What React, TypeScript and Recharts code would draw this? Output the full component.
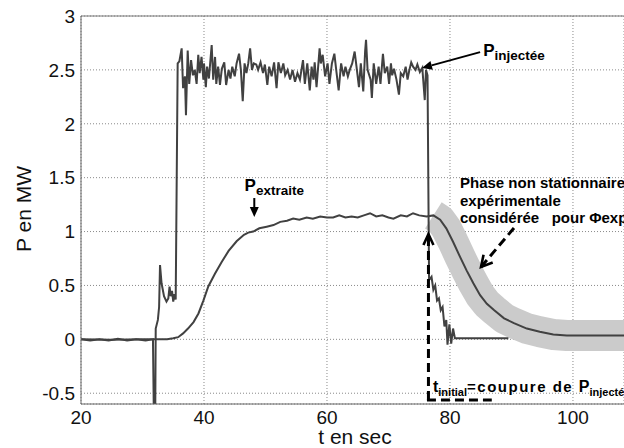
import React from 'react';
import { LineChart, Line, XAxis, YAxis, CartesianGrid, ReferenceLine } from 'recharts';

// ---- axes ----
const X_TICKS = [20, 40, 60, 80, 100];
const Y_TICKS = [-0.5, 0, 0.5, 1, 1.5, 2, 2.5, 3];
const X_MIN = 20;
const X_MAX = 108.3;
const Y_MIN = -0.6;
const Y_MAX = 3;

// ---- P injectée (t [s], P [MW]) ----
const injected: [number, number][] = [
  [20, 0], [21.5, -0.01], [23, 0], [24.5, -0.01], [26, 0.005], [27.5, -0.01], [29, 0], [30.5, -0.01],
  [31.7, 0], [31.9, -0.95], [32.05, -0.95], [32.15, 0.1], [32.5, 0.18], [32.7, 0.3], [32.85, 0.69],
  [33.1, 0.52], [33.5, 0.4], [33.9, 0.35], [34.2, 0.38], [34.4, 0.49], [34.6, 0.4], [34.8, 0.45],
  [35.0, 0.35], [35.2, 0.42], [35.4, 0.37],
  [35.72, 2.56], [36.0, 2.58], [36.37, 2.7], [36.6, 2.33], [36.9, 2.44], [37.07, 2.08], [37.35, 2.68],
  [37.6, 2.37], [37.9, 2.59], [38.2, 2.45], [38.5, 2.5], [38.8, 2.37], [39.07, 2.64], [39.3, 2.47],
  [39.6, 2.62], [39.9, 2.41], [40.0, 2.56], [40.3, 2.34], [40.5, 2.53], [40.8, 2.42], [41.25, 2.73],
  [41.5, 2.41], [41.8, 2.62], [42.0, 2.37], [42.3, 2.53], [42.6, 2.36], [42.9, 2.51], [43.3, 2.57],
  [43.6, 2.36], [44.0, 2.5], [44.3, 2.42], [44.6, 2.53], [45.0, 2.44], [45.3, 2.56], [45.7, 2.65],
  [46.0, 2.5], [46.3, 2.21], [46.6, 2.56], [46.9, 2.47], [47.2, 2.56], [47.5, 2.7], [47.8, 2.5],
  [48.1, 2.56], [48.5, 2.55], [48.8, 2.5], [49.2, 2.57], [49.6, 2.47], [49.9, 2.55], [50.3, 2.36],
  [50.6, 2.53], [51.0, 2.44], [51.4, 2.57], [51.8, 2.33], [52.1, 2.57], [52.5, 2.47], [52.9, 2.56],
  [53.2, 2.45], [53.6, 2.5], [54.0, 2.41], [54.4, 2.5], [54.8, 2.39], [55.2, 2.47], [55.6, 2.41],
  [56.1, 2.59], [56.4, 2.37], [56.8, 2.56], [57.2, 2.31], [57.5, 2.53], [57.8, 2.41], [58.0, 2.57],
  [58.3, 2.34], [58.8, 2.7], [59.0, 2.56], [59.3, 2.64], [59.7, 2.44], [60.1, 2.56], [60.4, 2.37],
  [60.8, 2.56], [61.2, 2.65], [61.5, 2.5], [61.9, 2.31], [62.3, 2.56], [62.7, 2.44], [63.0, 2.53],
  [63.4, 2.44], [63.7, 2.5], [64.1, 2.56], [64.5, 2.67], [64.8, 2.53], [65.2, 2.34], [65.5, 2.56],
  [65.9, 2.3], [66.2, 2.67], [66.35, 2.78], [66.6, 2.5], [67.1, 2.41], [67.3, 2.24], [67.6, 2.56],
  [68.0, 2.37], [68.4, 2.53], [68.7, 2.37], [69.1, 2.65], [69.4, 2.47], [69.8, 2.53], [70.1, 2.37],
  [70.4, 2.56], [70.6, 2.45], [70.9, 2.51], [71.3, 2.41], [71.7, 2.27], [72.0, 2.47], [72.4, 2.44],
  [72.8, 2.53], [73.1, 2.41], [73.4, 2.5], [73.7, 2.57], [74.0, 2.53], [74.4, 2.5], [74.7, 2.55],
  [75.1, 2.48], [75.5, 2.52], [75.9, 2.22], [76.1, 2.5], [76.35, 2.45],
  [76.6, 0.55], [77.0, 0.58], [77.3, 0.46], [77.6, 0.5], [77.9, 0.36], [78.2, 0.38], [78.5, 0.27],
  [78.8, 0.3], [79.1, 0.12], [79.4, 0.18], [79.6, -0.05], [79.9, 0.14], [80.2, -0.04], [80.5, 0.1],
  [80.8, 0.01], [89.5, 0.01],
];

// ---- P extraite (t [s], P [MW]) ----
const extracted: [number, number][] = [
  [20, 0], [25, -0.005], [30, 0], [34, 0], [35, 0.01], [35.8, 0.02], [36.6, 0.055], [37.4, 0.1],
  [38.3, 0.16], [39.1, 0.24], [39.9, 0.36], [40.7, 0.49], [41.8, 0.61], [42.9, 0.72], [44.0, 0.82],
  [45.3, 0.91], [46.5, 0.97], [47.2, 0.99], [48.0, 1.0], [49.0, 1.03], [50.2, 1.045], [51.3, 1.06],
  [52.4, 1.09], [53.5, 1.1], [54.5, 1.12], [55.5, 1.11], [56.7, 1.13], [57.7, 1.12], [58.9, 1.14],
  [60.0, 1.13], [61.0, 1.13], [62.0, 1.15], [63.0, 1.13], [64.0, 1.14], [65.0, 1.13], [66.0, 1.15],
  [67.0, 1.17], [68.0, 1.14], [69.0, 1.15], [70.0, 1.13], [70.8, 1.12], [72.0, 1.15], [73.0, 1.14],
  [74.0, 1.17], [75.0, 1.15], [76.2, 1.14], [77.3, 1.15], [78.4, 1.11], [79.4, 1.03], [80.5, 0.905],
  [81.6, 0.77], [82.7, 0.64], [83.8, 0.52], [84.9, 0.41], [86.0, 0.33], [87.2, 0.27], [88.8, 0.195],
  [90.4, 0.15], [92.5, 0.1], [94.6, 0.07], [96.8, 0.045], [99.0, 0.035], [101.0, 0.035],
  [104.4, 0.035], [108.3, 0.035],
];

// start of the highlighted non-stationary phase
const BAND_START = 77.3;

// ---- layout ----
const W = 624;
const H = 448;
const MARGIN = { top: 16, right: 0, bottom: 0, left: 0 };
const Y_AXIS_W = 81;
const X_AXIS_H = 44;
const PLOT_L = MARGIN.left + Y_AXIS_W;
const PLOT_R = W - MARGIN.right;
const PLOT_T = MARGIN.top;
const PLOT_B = H - MARGIN.bottom - X_AXIS_H;

const sx = (t: number) => PLOT_L + ((t - X_MIN) / (X_MAX - X_MIN)) * (PLOT_R - PLOT_L);
const sy = (v: number) => PLOT_T + ((Y_MAX - v) / (Y_MAX - Y_MIN)) * (PLOT_B - PLOT_T);

const FONT = '"Liberation Sans", Arial, Helvetica, sans-serif';
const LINE = '#414141';

const toRows = (arr: [number, number][]) => arr.map(([t, p]) => ({ t, p }));
const injData = toRows(injected);
const extData = toRows(extracted);
const bandData = toRows(extracted.filter(([t]) => t >= BAND_START));

function headPts(x1: number, y1: number, x2: number, y2: number, len: number, half: number) {
  const d = Math.hypot(x2 - x1, y2 - y1);
  const ux = (x2 - x1) / d;
  const uy = (y2 - y1) / d;
  const bx = x2 - ux * len;
  const by = y2 - uy * len;
  const nx = -uy;
  const ny = ux;
  return [
    [bx + nx * half, by + ny * half],
    [x2, y2],
    [bx - nx * half, by - ny * half],
  ];
}

function Arrow({ from, to, dashed = false, open = false }: { from: [number, number]; to: [number, number]; dashed?: boolean; open?: boolean }) {
  const x1 = sx(from[0]);
  const y1 = sy(from[1]);
  const x2 = sx(to[0]);
  const y2 = sy(to[1]);
  const pts = headPts(x1, y1, x2, y2, open ? 11 : 10, open ? 6 : 4.5);
  const ptsStr = pts.map((p) => p.join(',')).join(' ');
  return (
    <g>
      <line
        x1={x1}
        y1={y1}
        x2={open ? x2 : (pts[0][0] + pts[2][0]) / 2}
        y2={open ? y2 : (pts[0][1] + pts[2][1]) / 2}
        stroke="#000"
        strokeWidth={dashed ? 3 : 2}
        strokeDasharray={dashed ? '9 5' : undefined}
      />
      {open ? (
        <polyline points={ptsStr} fill="none" stroke="#000" strokeWidth={2.6} />
      ) : (
        <polygon points={ptsStr} fill="#000" />
      )}
    </g>
  );
}

function Annotations() {
  const cutT = 76.5;
  const cutBottom = -0.563;
  const cutTop = 0.977;
  return (
    <svg
      width={W}
      height={H}
      style={{ position: 'absolute', left: 0, top: 0, pointerEvents: 'none' }}
      fontFamily={FONT}
    >
      {/* axis titles */}
      <text x={355} y={444} fontSize={21} textAnchor="middle" fill="#111">t en sec</text>
      <text x={31} y={209} fontSize={21} textAnchor="middle" fill="#111" transform="rotate(-90, 31, 209)">P en MW</text>

      {/* P injectée */}
      <text x={sx(85.4)} y={sy(2.63)} fontWeight="bold" fill="#000">
        <tspan fontSize={17}>P</tspan>
        <tspan fontSize={13.5} dy={4}>injectée</tspan>
      </text>
      <Arrow from={[84.9, 2.665]} to={[75.45, 2.517]} />

      {/* P extraite */}
      <text x={sx(46.6)} y={sy(1.376)} fontWeight="bold" fill="#000">
        <tspan fontSize={17}>P</tspan>
        <tspan fontSize={13.5} dy={4}>extraite</tspan>
      </text>
      <Arrow from={[48.18, 1.311]} to={[48.18, 1.135]} />

      {/* phase non stationnaire */}
      <text x={sx(81.63)} y={sy(1.404)} fontSize={15} fontWeight="bold" fill="#000" style={{ whiteSpace: 'pre' }}>
        <tspan x={sx(81.63)}>Phase non stationnaire</tspan>
        <tspan x={sx(81.63)} dy={17.5}>expérimentale</tspan>
        <tspan x={sx(81.63)} dy={17.5}>considérée   pour Φexp</tspan>
      </text>
      <Arrow from={[90.41, 1.033]} to={[85.05, 0.671]} dashed open />

      {/* t initial */}
      <line x1={sx(cutT)} y1={sy(cutBottom)} x2={sx(cutT)} y2={sy(cutTop) + 2} stroke="#000" strokeWidth={3} strokeDasharray="9 5" />
      <line x1={sx(cutT) - 1.5} y1={sy(cutBottom)} x2={sx(86.8)} y2={sy(cutBottom)} stroke="#000" strokeWidth={3} strokeDasharray="9 5" />
      <polyline
        points={headPts(sx(cutT), sy(cutTop) + 20, sx(cutT), sy(cutTop), 11, 5)
          .map((p) => p.join(','))
          .join(' ')}
        fill="none"
        stroke="#000"
        strokeWidth={2.6}
      />
      <text x={sx(77.24)} y={sy(-0.489)} fontWeight="bold" fill="#000" style={{ whiteSpace: 'pre' }}>
        <tspan fontSize={16}>t</tspan>
        <tspan fontSize={11} dy={4}>initial</tspan>
        <tspan fontSize={15} dy={-4} letterSpacing={1.5}>=coupure de </tspan>
        <tspan fontSize={16}>P</tspan>
        <tspan fontSize={11} dy={4}>injectée</tspan>
      </text>
    </svg>
  );
}

export default function App() {
  return (
    <div style={{ position: 'absolute', left: 0, top: 0, width: W, height: H, background: '#fff', overflow: 'hidden' }}>
      <LineChart width={W} height={H} margin={MARGIN}>
        <CartesianGrid stroke="#8a8a8a" strokeDasharray="1 2" />
        <XAxis
          type="number"
          dataKey="t"
          domain={[X_MIN, X_MAX]}
          ticks={X_TICKS}
          allowDataOverflow
          height={X_AXIS_H}
          axisLine={{ stroke: '#666' }}
          tickLine={false}
          tickMargin={1}
          tick={{ fontSize: 19, fill: '#111', fontFamily: FONT }}
        />
        <YAxis
          type="number"
          dataKey="p"
          domain={[Y_MIN, Y_MAX]}
          ticks={Y_TICKS}
          allowDataOverflow
          width={Y_AXIS_W}
          axisLine={{ stroke: '#666' }}
          tickLine={false}
          tickMargin={0}
          tick={{ fontSize: 19, fill: '#111', fontFamily: FONT }}
        />
        <ReferenceLine y={Y_MAX} stroke="#777" />
        <Line
          data={bandData}
          dataKey="p"
          type="linear"
          stroke="#cbcbcb"
          strokeWidth={31}
          strokeLinejoin="round"
          strokeLinecap="butt"
          dot={false}
          activeDot={false}
          isAnimationActive={false}
        />
        <Line data={extData} dataKey="p" type="linear" stroke={LINE} strokeWidth={2} dot={false} activeDot={false} isAnimationActive={false} />
        <Line data={injData} dataKey="p" type="linear" stroke={LINE} strokeWidth={2} dot={false} activeDot={false} isAnimationActive={false} />
      </LineChart>
      <Annotations />
    </div>
  );
}
